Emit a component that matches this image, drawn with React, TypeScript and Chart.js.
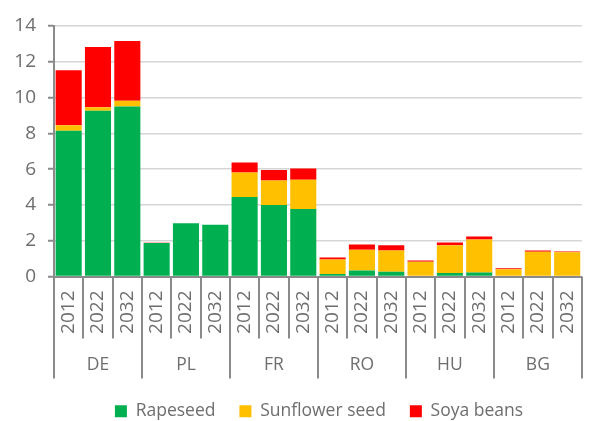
import React, { useEffect, useRef } from "react";
import { Chart, registerables } from "chart.js";

Chart.register(...registerables);

const years = [
  "2012", "2022", "2032",
  "2012", "2022", "2032",
  "2012", "2022", "2032",
  "2012", "2022", "2032",
  "2012", "2022", "2032",
  "2012", "2022", "2032",
];
const countries = ["DE", "PL", "FR", "RO", "HU", "BG"];

const rapeseed = [8.14, 9.26, 9.5, 1.87, 2.97, 2.89, 4.44, 3.99, 3.77, 0.14, 0.34, 0.26, 0.04, 0.2, 0.22, 0.0, 0.0, 0.0];
const sunflower = [0.32, 0.2, 0.32, 0.0, 0.0, 0.0, 1.37, 1.37, 1.64, 0.81, 1.15, 1.2, 0.78, 1.55, 1.85, 0.41, 1.38, 1.36];
const soya = [3.06, 3.36, 3.34, 0.02, 0.0, 0.0, 0.56, 0.59, 0.62, 0.11, 0.3, 0.29, 0.08, 0.15, 0.17, 0.05, 0.07, 0.04];

const yMin = 0;
const yMax = 14;
const yStep = 2;

const seriesNames = ["Rapeseed", "Sunflower seed", "Soya beans"];
const seriesColors = ["#00B050", "#FFC000", "#FF0000"];

const TEXT = "#6e6e6e";
const AXIS = "#8a8a8a";
const GRID = "#d6d6d6";
const FONT = "'Open Sans', 'Liberation Sans', sans-serif";

const separatorPlugin = {
  id: "groupSeparators",
  afterLayout(chart: any) {
    // nudge the legend block to the right, as in the original
    const lg = chart.legend;
    if (lg) {
      lg.left += 17;
      lg.right += 17;
    }
  },
  afterDraw(chart: any) {
    const x = chart.scales.x;
    const x2 = chart.scales.x2;
    const ctx = chart.ctx;
    const n = years.length;
    const step = (x.right - x.left) / n;
    ctx.save();
    ctx.strokeStyle = AXIS;
    ctx.lineWidth = 2;
    for (let i = 0; i <= n; i++) {
      const px = Math.round(x.left + i * step);
      if (px >= chart.width - 1) continue;
      const bottom = i % 3 === 0 ? x2.bottom : x.bottom;
      ctx.beginPath();
      ctx.moveTo(px, x.top);
      ctx.lineTo(px, bottom);
      ctx.stroke();
    }
    ctx.restore();
  },
};

export default function App() {
  const ref = useRef<HTMLCanvasElement | null>(null);

  useEffect(() => {
    if (!ref.current) return;
    const data = [rapeseed, sunflower, soya];
    const chart = new Chart(ref.current, {
      type: "bar",
      data: {
        labels: years,
        datasets: data.map((d, i) => ({
          label: seriesNames[i],
          data: d,
          backgroundColor: seriesColors[i],
          borderWidth: 0,
          barPercentage: 0.89,
          categoryPercentage: 1.0,
        })),
      },
      options: {
        responsive: false,
        animation: false,
        layout: { padding: { top: 26, left: 0, right: 0, bottom: 0 } },
        plugins: {
          legend: {
            position: "bottom",
            labels: {
              boxWidth: 12,
              boxHeight: 12,
              padding: 24,
              color: TEXT,
              font: { family: FONT, size: 17.5 },
            },
          },
          tooltip: { enabled: false },
        },
        scales: {
          x: {
            type: "category",
            stacked: true,
            offset: true,
            grid: { display: false, drawTicks: false },
            border: { display: true, color: AXIS, width: 2 },
            ticks: {
              autoSkip: false,
              minRotation: 90,
              maxRotation: 90,
              padding: 14,
              color: TEXT,
              font: { family: FONT, size: 19 },
            },
            afterFit: (s: any) => {
              s.height = 62;
            },
          },
          x2: {
            type: "category",
            position: "bottom",
            labels: countries,
            offset: true,
            grid: { display: false, drawTicks: false },
            border: { display: false },
            ticks: {
              autoSkip: false,
              maxRotation: 0,
              padding: 16,
              color: TEXT,
              font: { family: FONT, size: 17.5 },
            },
            afterFit: (s: any) => {
              s.height = 40;
            },
          },
          y: {
            stacked: true,
            min: yMin,
            max: yMax,
            ticks: {
              stepSize: yStep,
              padding: 12,
              color: TEXT,
              font: { family: FONT, size: 19 },
            },
            grid: {
              color: GRID,
              lineWidth: 1.5,
              tickColor: AXIS,
              tickWidth: 2,
              tickLength: 6,
            },
            border: { display: true, color: AXIS, width: 2 },
            afterFit: (s: any) => {
              s.width = 54;
            },
          },
        },
      },
      plugins: [separatorPlugin],
    });
    return () => chart.destroy();
  }, []);

  return (
    <div style={{ position: "fixed", left: 0, top: 0, width: 604, height: 430, overflow: "hidden", background: "#fff" }}>
      <canvas ref={ref} width={604} height={430} style={{ display: "block" }} />
    </div>
  );
}
